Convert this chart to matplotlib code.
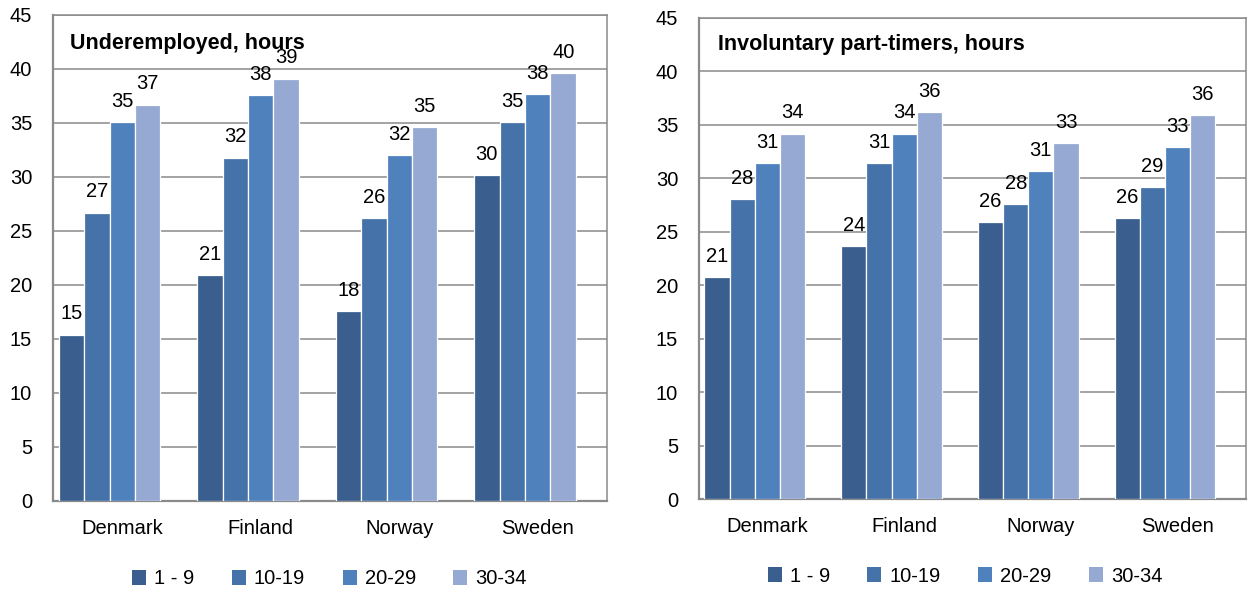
import matplotlib
matplotlib.use("Agg")
import matplotlib.pyplot as plt
from matplotlib.patches import Patch
import numpy as np

plt.rcParams['font.family'] = ['Liberation Sans', 'DejaVu Sans']

countries = ["Denmark", "Finland", "Norway", "Sweden"]
groups = ["1 - 9", "10-19", "20-29", "30-34"]

# Average hours by usual-hours group (rows: hour groups, columns: countries)
underemployed = [
    [15.4, 20.9, 17.6, 30.2],
    [26.7, 31.8, 26.2, 35.1],
    [35.1, 37.6, 32.0, 37.7],
    [36.7, 39.1, 34.6, 39.6],
]
involuntary = [
    [20.8, 23.7, 25.9, 26.3],
    [28.1, 31.4, 27.6, 29.2],
    [31.4, 34.2, 30.7, 32.9],
    [34.2, 36.2, 33.3, 35.9],
]
titles = ["Underemployed, hours", "Involuntary part-timers, hours"]
yticks = [0, 5, 10, 15, 20, 25, 30, 35, 40, 45]

colors = ["#3A5F8E", "#4572A8", "#4F81BD", "#95A9D2"]
grid_c = "#8a8a8a"

W, H = 1248, 594
fig = plt.figure(figsize=(W / 100, H / 100), dpi=100)

panels = [
    dict(rect=(53, 15, 607, 501), data=underemployed, title=titles[0],
         toff=(17, 34.5), leg=(329.5, 579)),
    dict(rect=(699, 18, 1246, 499.4), data=involuntary, title=titles[1],
         toff=(19, 32), leg=(965, 576)),
]

fs = 14.5
slot = 0.184
x = np.arange(len(countries))
for p in panels:
    x0, y0, x1, y1 = p["rect"]
    ax = fig.add_axes([x0 / W, 1 - y1 / H, (x1 - x0) / W, (y1 - y0) / H])
    for j, vals in enumerate(p["data"]):
        xs = x + (j - 2) * slot
        ax.bar(xs, vals, width=slot, color=colors[j], edgecolor="white",
               linewidth=0.9, zorder=3)
        for xi, v in zip(xs, vals):
            ax.annotate(f"{v:.0f}", xy=(xi, v), xytext=(0, 11),
                        textcoords="offset points", ha="center", va="baseline",
                        fontsize=fs, color="black", zorder=4)
    ax.set_xlim(-0.5, len(countries) - 0.5)
    ax.set_ylim(0, 45)
    ax.set_yticks(yticks)
    ax.set_xticks(x)
    ax.set_xticklabels(countries)
    ax.tick_params(axis="both", length=0, labelsize=fs)
    ax.tick_params(axis="y", pad=15)
    ax.tick_params(axis="x", pad=13)
    ax.yaxis.grid(True, color=grid_c, linewidth=1.1, zorder=0)
    ax.set_axisbelow(True)
    for s in ax.spines.values():
        s.set_color(grid_c)
        s.set_linewidth(1.1)
    ax.spines["bottom"].set_linewidth(1.6)
    ax.spines["left"].set_linewidth(1.6)
    ax.annotate(p["title"], xy=(0, 1), xycoords="axes fraction",
                xytext=(p["toff"][0] / 1.389, -p["toff"][1] / 1.389),
                textcoords="offset points", ha="left", va="baseline",
                fontsize=15.5, fontweight="bold", color="black")
    handles = [Patch(facecolor=c, edgecolor="none") for c in colors]
    fig.legend(handles, groups, loc="center",
               bbox_to_anchor=(p["leg"][0] / W, 1 - p["leg"][1] / H),
               ncol=4, frameon=False, fontsize=fs, handlelength=0.7,
               handleheight=0.7, handletextpad=0.4, columnspacing=1.85)

fig.savefig("out.png", dpi=100)
